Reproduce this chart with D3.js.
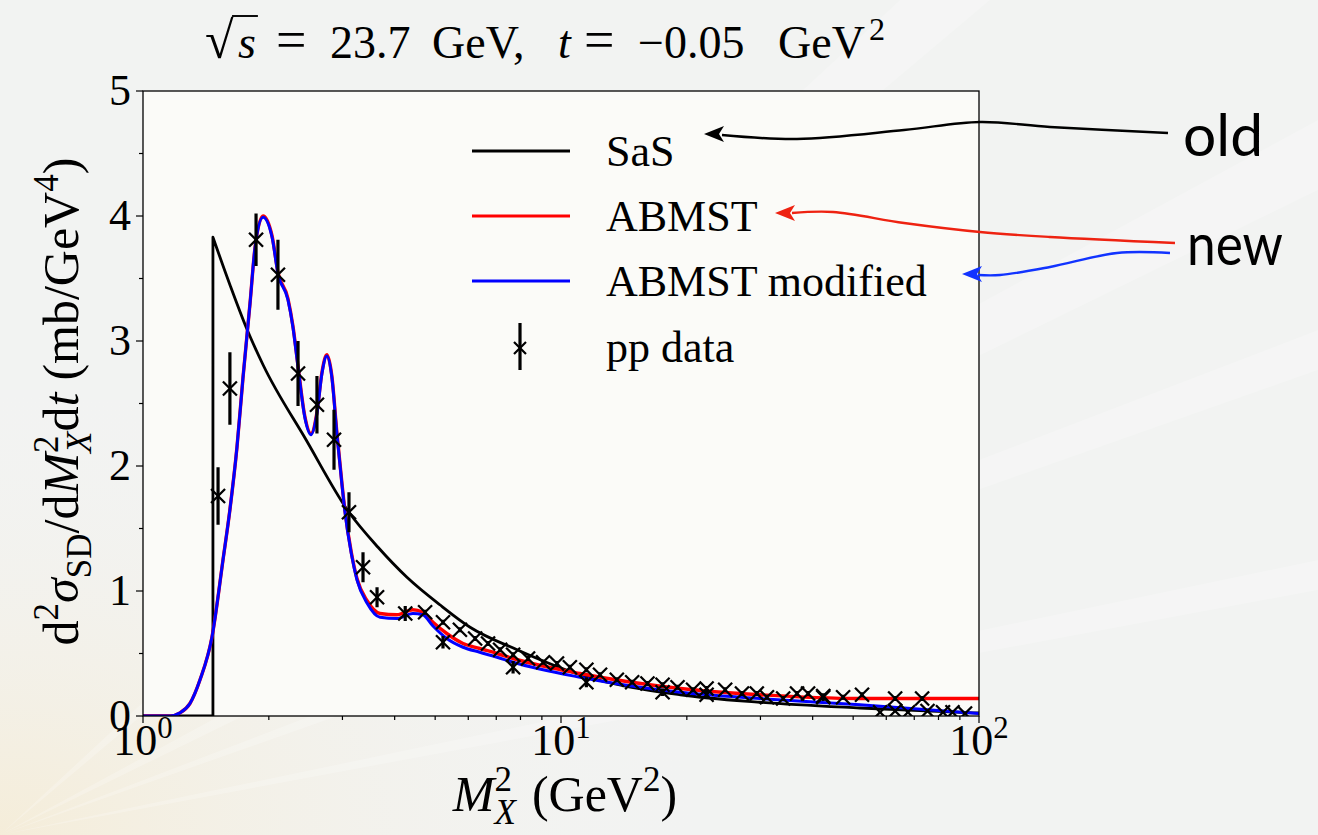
<!DOCTYPE html>
<html>
<head>
<meta charset="utf-8">
<script src="https://cdn.jsdelivr.net/npm/d3@7"></script>
<style>
  html, body { margin: 0; padding: 0; background: #f3f4f3; }
  svg { display: block; }
</style>
</head>
<body>
<svg id="chart" width="1318" height="835"></svg>
<script>
// ---- data ----
// SaS: [M_X^2, value]
const sasCurve = [
  [1.0, 0], [1.47, 0], [1.47, 3.83], [1.614, 3.45], [1.77, 3.10], [1.937, 2.81],
  [2.455, 2.21], [3.11, 1.63], [3.65, 1.35], [4.28, 1.11], [5.13, 0.89],
  [6.06, 0.71], [7.85, 0.53], [11.1, 0.33], [19.3, 0.17], [29.9, 0.11],
  [51.9, 0.064], [100, 0.024]
];
// ABMST modified (blue)
const abmstModCurve = [
  [1.0, 0], [1.16, 0], [1.226, 0.025], [1.295, 0.10], [1.369, 0.29], [1.462, 0.63],
  [1.554, 1.25], [1.614, 1.65], [1.678, 2.15], [1.734, 2.70], [1.803, 3.30],
  [1.854, 3.75], [1.937, 3.99], [2.036, 3.83], [2.103, 3.54], [2.222, 3.33],
  [2.284, 3.11], [2.349, 2.79], [2.438, 2.39], [2.523, 2.25], [2.607, 2.42],
  [2.680, 2.74], [2.754, 2.88], [2.830, 2.71], [2.909, 2.26], [2.990, 1.86],
  [3.04, 1.64], [3.15, 1.30], [3.25, 1.09], [3.44, 0.90], [3.69, 0.79],
  [4.05, 0.78], [4.42, 0.82], [4.67, 0.81], [4.94, 0.72], [5.33, 0.62],
  [5.83, 0.55], [6.39, 0.51], [7.03, 0.47], [7.68, 0.43], [11.1, 0.31],
  [19.3, 0.19], [29.9, 0.14], [51.9, 0.09], [100, 0.02]
];
// ABMST (red)
const abmstCurve = [
  [1.0, 0], [1.16, 0], [1.226, 0.025], [1.295, 0.10], [1.369, 0.29], [1.462, 0.63],
  [1.554, 1.25], [1.614, 1.65], [1.678, 2.15], [1.734, 2.70], [1.803, 3.30],
  [1.854, 3.75], [1.937, 4.00], [2.036, 3.84], [2.103, 3.55], [2.222, 3.34],
  [2.284, 3.12], [2.349, 2.80], [2.438, 2.40], [2.523, 2.26], [2.607, 2.43],
  [2.680, 2.75], [2.754, 2.89], [2.830, 2.72], [2.909, 2.27], [2.990, 1.87],
  [3.04, 1.65], [3.15, 1.31], [3.25, 1.10], [3.44, 0.92], [3.69, 0.82],
  [4.05, 0.81], [4.42, 0.85], [4.67, 0.83], [4.94, 0.75], [5.33, 0.66],
  [5.83, 0.58], [6.39, 0.54], [7.03, 0.50], [7.68, 0.46], [11.1, 0.34],
  [19.3, 0.22], [29.9, 0.17], [51.9, 0.14], [100, 0.14]
];
// pp data: [M_X^2, value, error]
const ppData = [
  [1.512, 1.76, 0.23], [1.614, 2.62, 0.29], [1.864, 3.81, 0.21], [2.103, 3.53, 0.28],
  [2.349, 2.74, 0.26], [2.607, 2.49, 0.23], [2.864, 2.21, 0.24], [3.11, 1.63, 0.16],
  [3.36, 1.19, 0.12], [3.63, 0.95, 0.08], [4.24, 0.82, 0.06],
  [4.73, 0.83, 0.02], [5.22, 0.75, 0.02], [5.22, 0.59, 0.05], [5.73, 0.69, 0.02],
  [6.23, 0.62, 0.02], [6.69, 0.58, 0.02], [7.15, 0.53, 0.02], [7.68, 0.49, 0.02],
  [7.68, 0.39, 0.05], [8.34, 0.46, 0.02], [9.06, 0.43, 0.02], [9.78, 0.42, 0.02],
  [10.5, 0.39, 0.02], [11.5, 0.37, 0.02], [11.5, 0.27, 0.04], [12.4, 0.33, 0.02],
  [13.6, 0.29, 0.02], [14.8, 0.27, 0.02], [16.1, 0.26, 0.02], [17.5, 0.25, 0.02],
  [17.5, 0.19, 0.03], [19.0, 0.23, 0.02], [20.7, 0.21, 0.02], [22.3, 0.22, 0.02],
  [22.3, 0.17, 0.03], [24.7, 0.21, 0.02], [27.1, 0.18, 0.02], [29.4, 0.18, 0.02],
  [31.1, 0.15, 0.02], [34.0, 0.14, 0.02], [36.7, 0.18, 0.02], [39.0, 0.18, 0.02],
  [42.4, 0.16, 0.02], [42.4, 0.15, 0.03], [47.3, 0.15, 0.02], [52.5, 0.17, 0.02],
  [63.0, 0.14, 0.02], [73.1, 0.14, 0.02],
  [58.0, 0.03, 0.01], [63.0, 0.04, 0.01], [67.6, 0.03, 0.01], [75.3, 0.04, 0.01],
  [82.0, 0.03, 0.01], [86.4, 0.03, 0.01], [92.6, 0.02, 0.01]
];
const yTicks = [0, 1, 2, 3, 4, 5];
const yMinorTicks = [0.5, 1.5, 2.5, 3.5, 4.5];
const xTicks = [1, 10, 100];
const xTickExp = ["0", "1", "2"];
const legendNames = ["SaS", "ABMST", "ABMST modified", "pp data"];

// annotation arrows (screen space, pointing at legend entries)
const arrowOld = [[1168, 133], [1050, 127], [980, 122], [904, 130], [797, 139], [722, 135]];
const arrowNewRed = [[1175, 243], [1050, 237], [980, 232], [904, 223], [833, 212], [792, 213]];
const arrowNewBlue = [[1170, 253], [1117, 253], [1050, 267], [1000, 275], [978, 275]];

// ---- layout ----
const W = 1318, H = 835;
const M = { left: 143, right: 979, top: 91, bottom: 716 };
const SERIF = "'Liberation Serif', 'DejaVu Serif', serif";
const SANS = "Lato, 'Open Sans', sans-serif";
const FS = 44;      // ticks, legend
const FS_T = 46;    // title
const FS_LAB = 50;  // axis labels

const svg = d3.select("#chart");

// background
const defs = svg.append("defs");
const warm = defs.append("radialGradient").attr("id", "warm")
  .attr("cx", "0").attr("cy", "1").attr("r", "0.55");
warm.append("stop").attr("offset", "0%").attr("stop-color", "#f5ecd6").attr("stop-opacity", 0.9);
warm.append("stop").attr("offset", "100%").attr("stop-color", "#f3f4f3").attr("stop-opacity", 0);
svg.append("rect").attr("width", W).attr("height", H).attr("fill", "#f2f3f2");
svg.append("rect").attr("width", W).attr("height", H).attr("fill", "url(#warm)");
// faint light streaks
const streaks = [
  [[0, 835], [1318, 120], [1318, 190]],
  [[0, 835], [1318, 330], [1318, 370]],
  [[0, 835], [900, 0], [990, 0]],
  [[0, 835], [1318, 560], [1318, 590]]
];
svg.append("g").selectAll("polygon").data(streaks).join("polygon")
  .attr("points", d => d.map(p => p.join(",")).join(" "))
  .attr("fill", "#ffffff").attr("opacity", 0.22);

const x = d3.scaleLog().domain([1, 100]).range([M.left, M.right]);
const y = d3.scaleLinear().domain([0, 5]).range([M.bottom, M.top]);

// plot area
svg.append("rect")
  .attr("x", M.left).attr("y", M.top)
  .attr("width", M.right - M.left).attr("height", M.bottom - M.top)
  .attr("fill", "#fbfbf8");

defs.append("clipPath").attr("id", "plotClip").append("rect")
  .attr("x", M.left).attr("y", M.top - 2)
  .attr("width", M.right - M.left).attr("height", M.bottom - M.top + 2);

const plot = svg.append("g").attr("clip-path", "url(#plotClip)");

const lineCurve = d3.line()
  .x(d => x(d[0])).y(d => y(d[1]))
  .curve(d3.curveMonotoneX);
const lineStraight = d3.line().x(d => x(d[0])).y(d => y(d[1]));

// SaS: vertical edge then smooth fall
plot.append("path")
  .attr("d", lineStraight(sasCurve.slice(0, 3)) + lineCurve(sasCurve.slice(2)).replace(/^M/, "L"))
  .attr("fill", "none").attr("stroke", "#000").attr("stroke-width", 2.8)
  .attr("stroke-linejoin", "round");

plot.append("path").attr("d", lineCurve(abmstCurve))
  .attr("fill", "none").attr("stroke", "#ff0000").attr("stroke-width", 3.4);
plot.append("path").attr("d", lineCurve(abmstModCurve))
  .attr("fill", "none").attr("stroke", "#0000ff").attr("stroke-width", 3);

// pp data
const pts = plot.append("g").selectAll("g").data(ppData).join("g")
  .attr("transform", d => `translate(${x(d[0])},${y(d[1])})`);
pts.append("line")
  .attr("y1", d => y(d[1] + d[2]) - y(d[1]))
  .attr("y2", d => y(d[1] - d[2]) - y(d[1]))
  .attr("stroke", "#000").attr("stroke-width", 3.2);
pts.append("path").attr("d", "M-7,-7L7,7M-7,7L7,-7")
  .attr("stroke", "#000").attr("stroke-width", 2.3).attr("fill", "none");

// frame
svg.append("rect")
  .attr("x", M.left).attr("y", M.top)
  .attr("width", M.right - M.left).attr("height", M.bottom - M.top)
  .attr("fill", "none").attr("stroke", "#000").attr("stroke-width", 1.3);

// y axis ticks
const axisG = svg.append("g").attr("stroke", "#000").attr("stroke-width", 1.2);
axisG.selectAll(".ymaj").data(yTicks).join("line").attr("class", "ymaj")
  .attr("x1", M.left - 7).attr("x2", M.left)
  .attr("y1", d => y(d)).attr("y2", d => y(d));
axisG.selectAll(".ymin").data(yMinorTicks).join("line").attr("class", "ymin")
  .attr("x1", M.left - 4).attr("x2", M.left)
  .attr("y1", d => y(d)).attr("y2", d => y(d));

svg.append("g").selectAll("text").data(yTicks).join("text")
  .attr("x", M.left - 12).attr("y", d => y(d) + 14)
  .attr("text-anchor", "end")
  .attr("font-family", SERIF).attr("font-size", FS)
  .text(d => d);

// x axis ticks
const xMinor = [];
[1, 10].forEach(dec => { for (let k = 2; k <= 9; k++) xMinor.push(dec * k); });
axisG.selectAll(".xmaj").data(xTicks).join("line").attr("class", "xmaj")
  .attr("x1", d => x(d)).attr("x2", d => x(d))
  .attr("y1", M.bottom).attr("y2", M.bottom + 7);
axisG.selectAll(".xmin").data(xMinor).join("line").attr("class", "xmin")
  .attr("x1", d => x(d)).attr("x2", d => x(d))
  .attr("y1", M.bottom).attr("y2", M.bottom + 4);

const xLab = svg.append("g").selectAll("text").data(xTicks).join("text")
  .attr("x", d => x(d)).attr("y", 755)
  .attr("text-anchor", "middle")
  .attr("font-family", SERIF).attr("font-size", FS);
xLab.append("tspan").text("10");
xLab.append("tspan").attr("dy", -17).attr("font-size", FS * 0.7).text((d, i) => xTickExp[i]);

// rich text helper: segments {t, it, pos:'sup'|'sub', dx, x, fs}
function rich(textSel, segs, fs) {
  let cur = 0;
  segs.forEach(s => {
    const target = s.pos === "sup" ? -0.4 * fs : s.pos === "sub" ? 0.25 * fs : 0;
    const ts = textSel.append("tspan")
      .attr("dy", target - cur)
      .attr("font-size", s.fs || (s.pos ? fs * 0.7 : fs))
      .attr("font-style", s.it ? "italic" : "normal")
      .text(s.t);
    if (s.dx) ts.attr("dx", s.dx);
    if (s.x != null) ts.attr("x", s.x);
    cur = target;
  });
}

// title (math spacing set per piece)
const title = svg.append("text")
  .attr("y", 58)
  .attr("font-family", SERIF).attr("font-size", FS_T);
rich(title, [
  { t: "\u221A", x: 205, fs: 52 }, { t: "s", it: true, x: 238 }, { t: "=", x: 276, fs: 54 },
  { t: "23.7", x: 330 }, { t: "GeV,", x: 432 }, { t: "t", it: true, x: 558 },
  { t: "=", x: 584, fs: 54 }, { t: "\u22120.05", x: 638 }, { t: "GeV", x: 778 },
  { t: "2", pos: "sup", x: 869 }
], FS_T);
// radical bar over s
{
  const node = title.node();
  const e0 = node.getExtentOfChar(0);
  const e1 = node.getExtentOfChar(1);
  svg.append("line")
    .attr("x1", e0.x + e0.width - 1.5).attr("x2", e1.x + e1.width + 2)
    .attr("y1", e0.y + 4).attr("y2", e0.y + 4)
    .attr("stroke", "#000").attr("stroke-width", 1.9);
}

// y label
const yl = svg.append("text")
  .attr("transform", `translate(78,${(M.top + M.bottom) / 2 - 2}) rotate(-90)`)
  .attr("text-anchor", "middle")
  .attr("font-family", SERIF).attr("font-size", FS_LAB);
rich(yl, [
  { t: "d" }, { t: "2", pos: "sup" }, { t: "\u03C3", it: true }, { t: "SD", pos: "sub" },
  { t: "/d" }, { t: "M", it: true }, { t: "2", pos: "sup" },
  { t: "X", it: true, pos: "sub", dx: -FS_LAB * 0.35 },
  { t: "d" }, { t: "t", it: true }, { t: "(mb/GeV", dx: 12 }, { t: "4", pos: "sup" }, { t: ")" }
], FS_LAB);

// x label
const xl = svg.append("text")
  .attr("x", 565).attr("y", 811).attr("text-anchor", "middle")
  .attr("font-family", SERIF).attr("font-size", FS_LAB);
rich(xl, [
  { t: "M", it: true }, { t: "2", pos: "sup" },
  { t: "X", it: true, pos: "sub", dx: -FS_LAB * 0.35 },
  { t: "(GeV", dx: 16 }, { t: "2", pos: "sup" }, { t: ")" }
], FS_LAB);

// legend
const legY = [151, 216, 281, 347];
const legColors = ["#000", "#ff0000", "#0000ff"];
const leg = svg.append("g");
legColors.forEach((c, i) => {
  leg.append("line").attr("x1", 472).attr("x2", 570)
    .attr("y1", legY[i]).attr("y2", legY[i])
    .attr("stroke", c).attr("stroke-width", 3);
});
leg.append("line").attr("x1", 520).attr("x2", 520).attr("y1", 323).attr("y2", 370)
  .attr("stroke", "#000").attr("stroke-width", 3.2);
leg.append("path").attr("transform", "translate(520,348)")
  .attr("d", "M-6,-6L6,6M-6,6L6,-6").attr("stroke", "#000").attr("stroke-width", 2.2).attr("fill", "none");
leg.selectAll("text").data(legendNames).join("text")
  .attr("x", 606).attr("y", (d, i) => legY[i] + 15)
  .attr("font-family", SERIF).attr("font-size", FS)
  .text(d => d);

// annotations
const annLine = d3.line().curve(d3.curveCatmullRom.alpha(0.5));
function arrow(points, color, tip) {
  svg.append("path").attr("d", annLine(points))
    .attr("fill", "none").attr("stroke", color).attr("stroke-width", 2.4);
  const [tx, ty] = tip;
  svg.append("path")
    .attr("d", `M${tx},${ty}L${tx + 20},${ty - 8}L${tx + 15},${ty}L${tx + 20},${ty + 8}Z`)
    .attr("fill", color);
}
arrow(arrowOld, "#000", [704, 134]);
arrow(arrowNewRed, "#ee2211", [775, 213]);
arrow(arrowNewBlue, "#1133ff", [962, 274]);

svg.append("text").attr("x", 1183).attr("y", 156)
  .attr("font-family", SANS).attr("font-size", 58).attr("font-weight", 400)
  .attr("textLength", 80).attr("lengthAdjust", "spacingAndGlyphs").text("old");
svg.append("text").attr("x", 1187).attr("y", 265)
  .attr("font-family", SANS).attr("font-size", 58).attr("font-weight", 400)
  .attr("textLength", 96).attr("lengthAdjust", "spacingAndGlyphs").text("new");
</script>
</body>
</html>
